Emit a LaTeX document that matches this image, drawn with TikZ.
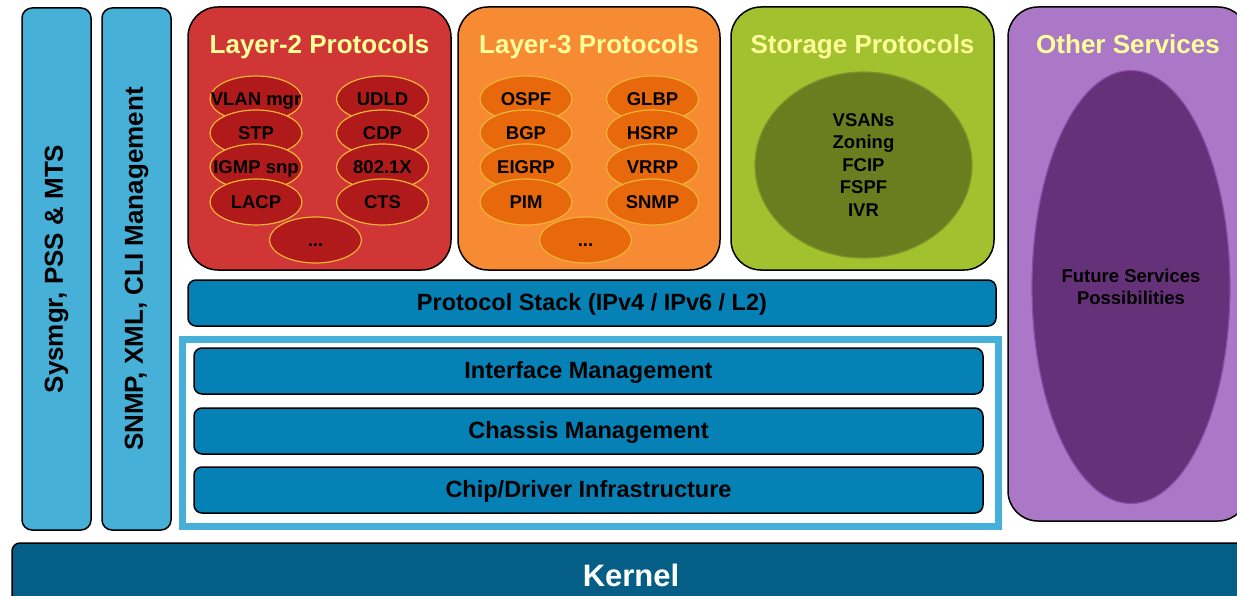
\documentclass[tikz,border=0pt]{standalone}
\usepackage{fontspec}
\setmainfont{Liberation Sans}
\usetikzlibrary{shapes.geometric}

\definecolor{sideblue}{HTML}{47B0D8}
\definecolor{barblue}{HTML}{0581B6}
\definecolor{kernelblue}{HTML}{045E86}
\definecolor{titleyellow}{HTML}{FFFF99}
\definecolor{l2red}{HTML}{D03636}
\definecolor{l2oval}{HTML}{B11A1A}
\definecolor{l3orange}{HTML}{F78B34}
\definecolor{l3oval}{HTML}{E8690C}
\definecolor{ovalrim}{HTML}{F2B233}
\definecolor{sangreen}{HTML}{A2C12F}
\definecolor{sanoval}{HTML}{6A7E1F}
\definecolor{sanrim}{HTML}{7C9628}
\definecolor{otherpurple}{HTML}{AB78C7}
\definecolor{otheroval}{HTML}{653179}
\definecolor{otherrim}{HTML}{8C4DAA}

\newcommand{\ptext}[1]{\makebox[0pt]{#1}}

\begin{document}
\begin{tikzpicture}
[every node/.style={inner sep=0pt, font=\bfseries},
 block/.style={rectangle, rounded corners=8pt, line width=1.5pt, draw=black},
 sidebar/.style={block, rounded corners=10pt, fill=sideblue, minimum width=522pt, minimum height=69pt, rotate=90, font=\bfseries\fontsize{26}{31}\selectfont},
 group/.style={rectangle, rounded corners=30pt, line width=1.5pt, draw=black, minimum height=263pt},
 title/.style={text=titleyellow, font=\bfseries\fontsize{26}{31}\selectfont},
 proto/.style={ellipse, minimum width=92pt, minimum height=46pt, line width=1.2pt, draw=ovalrim, text height=13pt, text depth=0pt, font=\bfseries\fontsize{18.5}{22}\selectfont},
 layer/.style={block, fill=barblue, minimum height=46pt, text height=14pt, text depth=0pt, font=\bfseries\fontsize{23.5}{28}\selectfont}]
\useasboundingbox (0pt, 0pt) rectangle (1237pt, -596pt);
% side columns
\node (sysmgr) [sidebar] at (56.5pt, -269pt) {Sysmgr, PSS \& MTS};
\node (mgmt) [sidebar] at (136.5pt, -269pt) {SNMP, XML, CLI Management};
% protocol groups
\node (l2) [group, fill=l2red, minimum width=263pt] at (319.5pt, -138.5pt) {};
\node (l2title) [title] at (319.5pt, -47pt) {Layer-2 Protocols};
\node (l3) [group, fill=l3orange, minimum width=262pt] at (589pt, -138.5pt) {};
\node (l3title) [title] at (589pt, -47pt) {Layer-3 Protocols};
\node (san) [group, fill=sangreen, minimum width=263pt] at (862.5pt, -138.5pt) {};
\node (santitle) [title] at (862.5pt, -47pt) {Storage Protocols};
\node (other) [group, fill=otherpurple, minimum width=240pt, minimum height=514pt] at (1128pt, -264pt) {};
\node (othertitle) [title] at (1128pt, -44pt) {Other Services};
% layer-2 protocols
\node (vlan) [proto, fill=l2oval] at (256pt, -99pt) {\ptext{VLAN mgr}};
\node (udld) [proto, fill=l2oval] at (382.5pt, -99pt) {\ptext{UDLD}};
\node (stp) [proto, fill=l2oval] at (256pt, -133pt) {\ptext{STP}};
\node (cdp) [proto, fill=l2oval] at (382.5pt, -133pt) {\ptext{CDP}};
\node (igmp) [proto, fill=l2oval] at (256pt, -167pt) {\ptext{IGMP snp}};
\node (dot1x) [proto, fill=l2oval] at (382.5pt, -167pt) {\ptext{802.1X}};
\node (lacp) [proto, fill=l2oval] at (256pt, -202pt) {\ptext{LACP}};
\node (cts) [proto, fill=l2oval] at (382.5pt, -202pt) {\ptext{CTS}};
\node (l2more) [proto, fill=l2oval] at (315.5pt, -240pt) {\ptext{...}};
% layer-3 protocols
\node (ospf) [proto, fill=l3oval] at (526pt, -99pt) {\ptext{OSPF}};
\node (glbp) [proto, fill=l3oval] at (652.5pt, -99pt) {\ptext{GLBP}};
\node (bgp) [proto, fill=l3oval] at (526pt, -133pt) {\ptext{BGP}};
\node (hsrp) [proto, fill=l3oval] at (652.5pt, -133pt) {\ptext{HSRP}};
\node (eigrp) [proto, fill=l3oval] at (526pt, -167pt) {\ptext{EIGRP}};
\node (vrrp) [proto, fill=l3oval] at (652.5pt, -167pt) {\ptext{VRRP}};
\node (pim) [proto, fill=l3oval] at (526pt, -202pt) {\ptext{PIM}};
\node (snmp) [proto, fill=l3oval] at (652.5pt, -202pt) {\ptext{SNMP}};
\node (l3more) [proto, fill=l3oval] at (585.5pt, -240pt) {\ptext{...}};
% storage and other services
\node (sanset) [ellipse, fill=sanoval, draw=sanrim, line width=1.2pt, minimum width=217pt, minimum height=186pt, align=center, font=\bfseries\fontsize{18.5}{22.5}\selectfont] at (863.5pt, -165pt) {VSANs\\Zoning\\FCIP\\FSPF\\IVR};
\node (future) [ellipse, fill=otheroval, draw=otherrim, line width=1.2pt, minimum width=198pt, minimum height=433pt, align=center, font=\bfseries\fontsize{18.5}{22}\selectfont] at (1131pt, -287pt) {\ptext{Future Services}\\Possibilities};
% stack
\node (stack) [layer, minimum width=808pt] at (592pt, -303pt) {Protocol Stack (IPv4 / IPv6 / L2)};
\node (platform) [rectangle, draw=sideblue, line width=7pt, minimum width=816pt, minimum height=187pt] at (590pt, -433pt) {};
\node (intf) [layer, minimum width=789pt] at (588.5pt, -371pt) {Interface Management};
\node (chassis) [layer, minimum width=789pt] at (588.5pt, -431pt) {Chassis Management};
\node (chip) [layer, minimum width=789pt] at (588.5pt, -490pt) {Chip/Driver Infrastructure};
\node (kernel) [block, fill=kernelblue, text=white, minimum width=1238pt, minimum height=64pt, font=\bfseries\fontsize{31}{37}\selectfont] at (631pt, -575pt) {Kernel};
\end{tikzpicture}
\end{document}
